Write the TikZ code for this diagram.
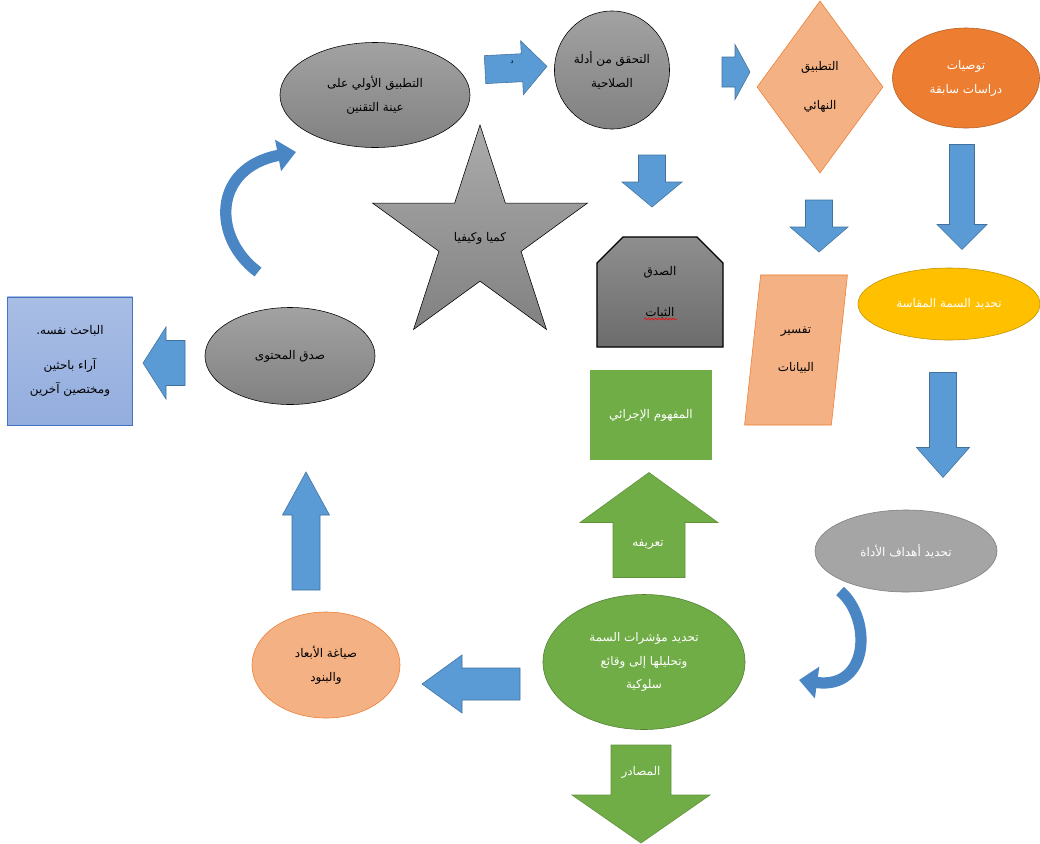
\documentclass[tikz,border=0pt]{standalone}
\usepackage{fontspec}
\newfontfamily\arabicfont[Script=Arabic]{DejaVu Sans}
\TeXXeTstate=1
\usepackage{tikz}
\usetikzlibrary{shapes.geometric,shapes.misc,arrows.meta,decorations.pathmorphing}
\usepackage{xcolor}

\definecolor{arrowblue}{HTML}{5B9BD5}
\definecolor{arrowline}{HTML}{41719C}
\definecolor{curveblue}{HTML}{4A85C4}
\definecolor{greyhi}{HTML}{A2A2A2}
\definecolor{greylo}{HTML}{818181}
\definecolor{darkhi}{HTML}{8E8E8E}
\definecolor{darklo}{HTML}{6C6C6C}
\definecolor{salmon}{HTML}{F4B183}
\definecolor{orangeline}{HTML}{ED7D31}
\definecolor{orangefill}{HTML}{ED7D31}
\definecolor{goldfill}{HTML}{FFC000}
\definecolor{goldline}{HTML}{BF9000}
\definecolor{lightgrey}{HTML}{A5A5A5}
\definecolor{leafgreen}{HTML}{70AD47}
\definecolor{leafline}{HTML}{507E32}
\definecolor{paleblue}{HTML}{93ADDE}
\definecolor{royalblue}{HTML}{4472C4}

\newcommand{\artext}[1]{\beginR#1\endR}
% block arrow: [style]{centre}{angle}{length}{head width}{shaft width}{head length}
\newcommand{\blockarrow}[7][blockfill]{%
  \path[#1, shift={#2}, rotate=#3]
    ({-#4/2},{-#6/2}) -- ({#4/2-#7},{-#6/2}) -- ({#4/2-#7},{-#5/2}) -- ({#4/2},0)
    -- ({#4/2-#7},{#5/2}) -- ({#4/2-#7},{#6/2}) -- ({-#4/2},{#6/2}) -- cycle;}

\begin{document}
\begin{tikzpicture}[
    x=0.025cm, y=-0.025cm,
    arfont/.style={font=\arabicfont\fontsize{8.5}{17}\selectfont},
    greyoval/.style={ellipse, draw=black, top color=greyhi, bottom color=greylo, inner sep=0pt, align=center, arfont},
    flatoval/.style={ellipse, inner sep=0pt, align=center, arfont, text=white},
    peach/.style={draw=orangeline, fill=salmon, inner sep=0pt, align=center, arfont},
    blockfill/.style={draw=arrowline, fill=arrowblue},
    greenblock/.style={draw=leafgreen!85!black, fill=leafgreen},
    curvearrow/.style={draw=curveblue, line width=8pt, -{Triangle[width=22pt,length=13pt]}}
]
\useasboundingbox (0,0) rectangle (1040,843);

% الصف العلوي
\node (pilot) [greyoval, minimum width=4.75cm, minimum height=2.625cm] at (375,95) {\artext{التطبيق الأولي على}\\\artext{عينة التقنين}};
\node (validity) [greyoval, minimum width=2.875cm, minimum height=2.95cm] at (612,70) {\artext{التحقق من أدلة}\\\artext{الصلاحية}};
\node (final) [diamond, peach, minimum width=3.15cm, minimum height=4.3cm] at (820,87) {\artext{التطبيق}\\[11pt]\artext{النهائي}};
\node (recs) [flatoval, draw=orangeline!75!black, fill=orangefill, minimum width=3.675cm, minimum height=2.5cm] at (966,78) {\artext{توصيات}\\\artext{دراسات سابقة}};

% الوسط
\node (quant) [star, star points=5, star point ratio=2.618, draw=black, top color=greyhi!90!white, bottom color=greylo, minimum size=5.65cm, inner sep=0pt, arfont] at (480,238) {\artext{كميا وكيفيا}};
\node (relia) [chamfered rectangle, chamfered rectangle corners={north west,north east}, chamfered rectangle xsep=0.55cm, draw=black, thick, top color=darkhi, bottom color=darklo, minimum width=3.15cm, minimum height=2.75cm, inner sep=0pt, align=center, arfont] at (660,292) {\artext{الصدق}\\[12pt]\artext{الثبات}};
\node (opdef) [rectangle, fill=leafgreen, text=white, minimum width=3.05cm, minimum height=2.25cm, arfont] at (651,415) {\artext{المفهوم الإجرائي}};
\node (interp) [trapezium, trapezium left angle=80, trapezium right angle=100, trapezium stretches=true, peach, minimum width=2.575cm, minimum height=3.75cm] at (796,350) {\artext{تفسير}\\[10pt]\artext{البيانات}};
\node (trait) [flatoval, draw=goldline, fill=goldfill, minimum width=4.55cm, minimum height=1.8cm] at (949,304) {\artext{تحديد السمة المقاسة}};
\node (content) [greyoval, minimum width=4.25cm, minimum height=2.425cm] at (290,356) {\artext{صدق المحتوى}};
\node (experts) [rectangle, draw=royalblue, top color=paleblue!80!white, bottom color=paleblue, minimum width=3.125cm, minimum height=3.2cm, align=center, arfont] at (70,361) {\artext{الباحث نفسه.}\\[8pt]\artext{آراء باحثين}\\\artext{ومختصين آخرين}};

% الصف السفلي
\node (goals) [flatoval, draw=lightgrey!75!black, fill=lightgrey, minimum width=4.55cm, minimum height=2.05cm] at (906,551) {\artext{تحديد أهداف الأداة}};
\node (indic) [flatoval, draw=leafline, fill=leafgreen, minimum width=5.05cm, minimum height=3.375cm] at (644,662) {\artext{تحديد مؤشرات السمة}\\\artext{وتحليلها إلى وقائع}\\\artext{سلوكية}};
\node (items) [ellipse, peach, minimum width=3.7cm, minimum height=2.65cm] at (326,665) {\artext{صياغة الأبعاد}\\\artext{والبنود}};

% الأسهم العريضة
\blockarrow{(516,68)}{3}{62}{54}{28}{25}
\blockarrow{(736,72)}{0}{28}{55}{30}{15}
\blockarrow{(652,181)}{270}{52}{60}{27}{25}
\blockarrow{(819,226)}{270}{52}{58}{27}{25}
\blockarrow{(962,197)}{270}{105}{50}{25}{25}
\blockarrow{(943,425)}{270}{105}{53}{27}{30}
\blockarrow{(471,684)}{180}{98}{58}{32}{40}
\blockarrow{(306,531)}{90}{118}{47}{28}{43}
\blockarrow{(164,363)}{180}{42}{72}{45}{23}
\blockarrow[greenblock]{(649,525)}{90}{105}{138}{72}{50}
\blockarrow[greenblock]{(641,794)}{270}{98}{138}{60}{48}

% نصوص الأسهم
\node (mark) [font=\arabicfont\fontsize{5}{6}\selectfont] at (512,62) {\artext{د}};
\node (defword) [arfont, text=white] at (648,545) {\artext{تعريفه}};
\node (sources) [arfont, text=white] at (641,772) {\artext{المصادر}};

% خط التدقيق الأحمر
\draw[red, decorate, decoration={snake, amplitude=0.7pt, segment length=2.5pt}] (644,319) -- (677,319);

% الأسهم المنحنية
\coordinate (loopStart) at (258,272);
\coordinate (loopEnd) at (296,152);
\draw[curvearrow] (loopStart) .. controls (212,238) and (212,168) .. (loopEnd);
\coordinate (turnStart) at (840,591);
\coordinate (turnEnd) at (799,680);
\draw[curvearrow] (turnStart) .. controls (872,618) and (870,690) .. (turnEnd);

\end{tikzpicture}
\end{document}
